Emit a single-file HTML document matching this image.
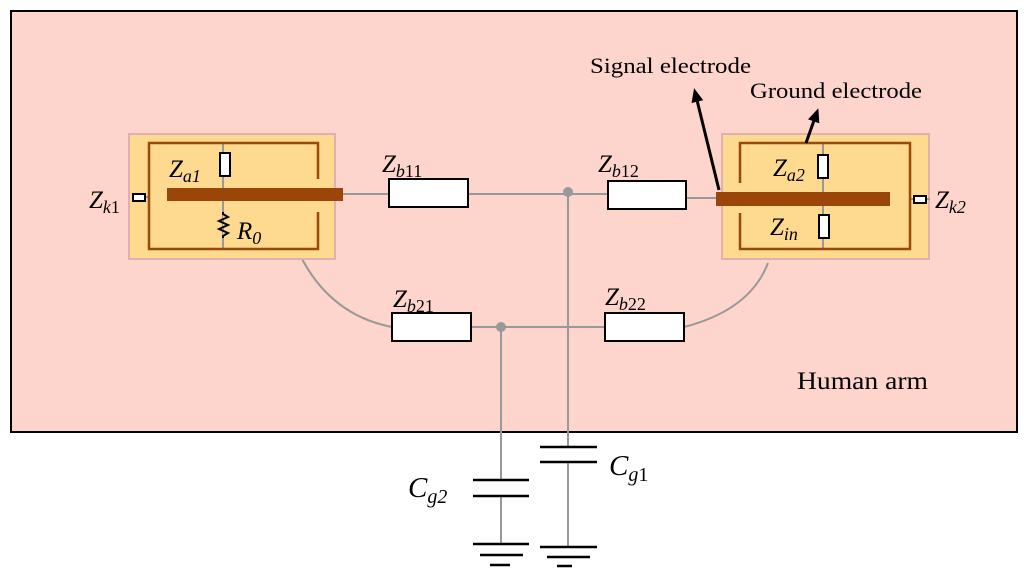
<!DOCTYPE html>
<html><head><style>body{margin:0;background:#fff}svg{display:block}text{font-family:"Liberation Serif",serif;fill:#000}</style></head><body>
<svg width="1024" height="579" viewBox="0 0 1024 579" xmlns="http://www.w3.org/2000/svg">
<defs>
<marker id="a2" markerWidth="14" markerHeight="14" refX="10" refY="7" orient="auto" markerUnits="userSpaceOnUse"><path d="M0,1 L14,7 L0,13 z" fill="#000"/></marker></defs>
<rect x="11" y="11" width="1006" height="421" fill="#fdd5cc" stroke="#000" stroke-width="2"/>
<g stroke="#999" stroke-width="2" fill="none">
<line x1="343" y1="194" x2="389" y2="194"/><line x1="468" y1="194" x2="608" y2="194"/><line x1="686" y1="198" x2="716" y2="198"/>
<line x1="471" y1="327" x2="605" y2="327"/>
<path d="M300,255 Q330,315 392,327"/><path d="M684,327 Q750,310 768,263"/>
<line x1="568" y1="192" x2="568" y2="447"/><line x1="568" y1="462" x2="568" y2="547"/>
<line x1="501" y1="327" x2="501" y2="480"/><line x1="501" y1="496" x2="501" y2="544"/>
</g>
<circle cx="568" cy="192" r="5" fill="#999"/><circle cx="501" cy="327" r="5" fill="#999"/>
<g stroke="#000" stroke-width="2.5">
<line x1="540" y1="447" x2="597" y2="447"/><line x1="540" y1="462" x2="597" y2="462"/>
<line x1="540" y1="547" x2="597" y2="547"/><line x1="547" y1="557" x2="590" y2="557"/><line x1="557" y1="566" x2="572" y2="566"/>
<line x1="473" y1="480" x2="529" y2="480"/><line x1="473" y1="496" x2="529" y2="496"/>
<line x1="473" y1="544" x2="529" y2="544"/><line x1="480" y1="555" x2="523" y2="555"/><line x1="490" y1="565" x2="510" y2="565"/>
</g>
<g fill="#fff" stroke="#000" stroke-width="2">
<rect x="389" y="179" width="79" height="28"/><rect x="608" y="181" width="78" height="28"/>
<rect x="392" y="313" width="79" height="28"/><rect x="605" y="313" width="79" height="28"/>
</g>
<rect x="129" y="134" width="206" height="125" fill="#fed990" stroke="#e2b0b0" stroke-width="2"/>
<line x1="223" y1="143" x2="223" y2="249" stroke="#999" stroke-width="2"/>
<line x1="138" y1="197" x2="149" y2="197" stroke="#999" stroke-width="2"/>
<path d="M318,179 V143 H149 V249 H318 V212" fill="none" stroke="#9a4a08" stroke-width="2.5"/>
<rect x="167" y="188" width="176" height="13" fill="#9a4608"/>
<rect x="220" y="153" width="10" height="23" fill="#fff" stroke="#000" stroke-width="2"/>
<rect x="133" y="194" width="12" height="7" fill="#fff" stroke="#000" stroke-width="2"/>
<path d="M223,212 L223,214 L228,217 L219,221 L228,225 L219,229 L228,233 L223,236 L223,238" fill="#fed990" stroke="#000" stroke-width="2"/>
<rect x="722" y="134" width="207" height="125" fill="#fed990" stroke="#e2b0b0" stroke-width="2"/>
<line x1="823" y1="143" x2="823" y2="249" stroke="#999" stroke-width="2"/>
<line x1="910" y1="199" x2="930" y2="199" stroke="#999" stroke-width="2"/>
<path d="M740,183 V143 H910 V249 H740 V213" fill="none" stroke="#9a4a08" stroke-width="2.5"/>
<rect x="716" y="192" width="174" height="14" fill="#9a4608"/>
<rect x="818" y="155" width="10" height="23" fill="#fff" stroke="#000" stroke-width="2"/>
<rect x="819" y="215" width="10" height="23" fill="#fff" stroke="#000" stroke-width="2"/>
<rect x="914" y="196" width="12" height="7" fill="#fff" stroke="#000" stroke-width="2"/>
<line x1="719" y1="190" x2="695" y2="92" stroke="#000" stroke-width="3" marker-end="url(#a2)"/>
<line x1="806" y1="143" x2="817" y2="112" stroke="#000" stroke-width="3" marker-end="url(#a2)"/>
<g font-size="25" font-style="italic">
<text x="89" y="208">Z<tspan font-size="18" dy="5">k</tspan><tspan font-size="18" font-style="normal">1</tspan></text>
<text x="169" y="177">Z<tspan font-size="18" dy="5">a1</tspan></text>
<text x="237" y="239">R<tspan font-size="18" dy="5">0</tspan></text>
<text x="382" y="172">Z<tspan font-size="18" dy="5">b</tspan><tspan font-size="18" font-style="normal">11</tspan></text>
<text x="598" y="172">Z<tspan font-size="18" dy="5">b</tspan><tspan font-size="18" font-style="normal">12</tspan></text>
<text x="393" y="307">Z<tspan font-size="18" dy="5">b</tspan><tspan font-size="18" font-style="normal">21</tspan></text>
<text x="605" y="305">Z<tspan font-size="18" dy="5">b</tspan><tspan font-size="18" font-style="normal">22</tspan></text>
<text x="773" y="176">Z<tspan font-size="18" dy="5">a2</tspan></text>
<text x="770" y="235">Z<tspan font-size="18" dy="5">in</tspan></text>
<text x="935" y="208">Z<tspan font-size="18" dy="5">k2</tspan></text>
<text x="408" y="497" font-size="29">C<tspan font-size="20" dy="6">g2</tspan></text>
<text x="609" y="475" font-size="29">C<tspan font-size="20" dy="6">g</tspan><tspan font-size="20" font-style="normal">1</tspan></text>
</g>
<text x="590" y="73" font-size="22" textLength="161" lengthAdjust="spacingAndGlyphs">Signal electrode</text>
<text x="750" y="98" font-size="22" textLength="172" lengthAdjust="spacingAndGlyphs">Ground electrode</text>
<text x="797" y="389" font-size="25" textLength="131" lengthAdjust="spacingAndGlyphs">Human arm</text>
</svg>
</body></html>
